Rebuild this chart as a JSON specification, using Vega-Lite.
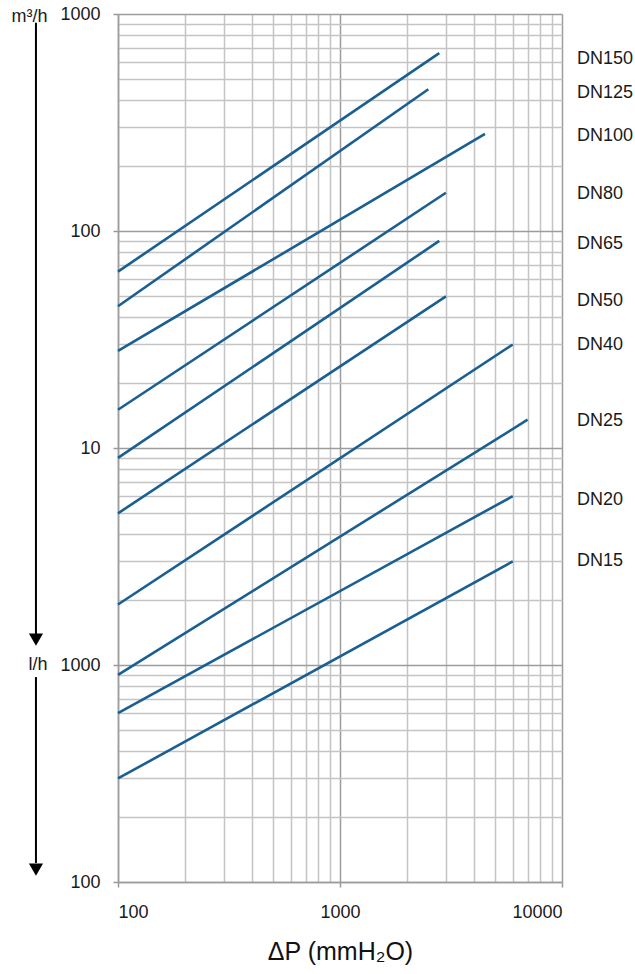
{
  "$schema": "https://vega.github.io/schema/vega-lite/v6.json",
  "width": 444,
  "height": 868,
  "autosize": {"type": "none"},
  "padding": {"left": 118, "top": 14, "right": 73, "bottom": 92},
  "background": "white",
  "config": {"view": {"stroke": null}, "font": "Liberation Sans"},
  "datasets": {
    "lines": [
      {"dn": "DN150", "dp": 100, "q": 65}, {"dn": "DN150", "dp": 2800, "q": 660},
      {"dn": "DN125", "dp": 100, "q": 45}, {"dn": "DN125", "dp": 2500, "q": 450},
      {"dn": "DN100", "dp": 100, "q": 28}, {"dn": "DN100", "dp": 4500, "q": 280},
      {"dn": "DN80", "dp": 100, "q": 15}, {"dn": "DN80", "dp": 3000, "q": 150},
      {"dn": "DN65", "dp": 100, "q": 9}, {"dn": "DN65", "dp": 2800, "q": 90},
      {"dn": "DN50", "dp": 100, "q": 5}, {"dn": "DN50", "dp": 3000, "q": 50},
      {"dn": "DN40", "dp": 100, "q": 1.9}, {"dn": "DN40", "dp": 6000, "q": 30},
      {"dn": "DN25", "dp": 100, "q": 0.9}, {"dn": "DN25", "dp": 7000, "q": 13.5},
      {"dn": "DN20", "dp": 100, "q": 0.6}, {"dn": "DN20", "dp": 6000, "q": 6},
      {"dn": "DN15", "dp": 100, "q": 0.3}, {"dn": "DN15", "dp": 6000, "q": 3}
    ],
    "labels": [
      {"dn": "DN150", "q": 620}, {"dn": "DN125", "q": 433}, {"dn": "DN100", "q": 274},
      {"dn": "DN80", "q": 148}, {"dn": "DN65", "q": 87}, {"dn": "DN50", "q": 47.8},
      {"dn": "DN40", "q": 29.8}, {"dn": "DN25", "q": 13.25}, {"dn": "DN20", "q": 5.73},
      {"dn": "DN15", "q": 3.0}
    ],
    "arrows": [
      {"q": 912, "q2": 1.36},
      {"q": 0.88, "q2": 0.1224}
    ],
    "heads": [{"q": 1.31}, {"q": 0.1139}],
    "units": [{"unit": "m³/h", "q": 964}, {"unit": "l/h", "q": 1}]
  },
  "layer": [
    {
      "data": {"name": "lines"},
      "mark": {"type": "line", "color": "#1a5f92", "strokeWidth": 2.6},
      "encoding": {
        "x": {
          "field": "dp", "type": "quantitative",
          "scale": {"type": "log", "domain": [100, 10000], "nice": false},
          "axis": {
            "orient": "bottom",
            "values": [100, 200, 300, 400, 500, 600, 700, 800, 900, 1000, 2000, 3000, 4000, 5000, 6000, 7000, 8000, 9000, 10000],
            "labelExpr": "indexof([100,1000,10000], datum.value) >= 0 ? format(datum.value, 'd') : ''",
            "labelOverlap": false,
            "labelFontSize": 18,
            "labelColor": "#1a1a1a",
            "labelPadding": 16,
            "tickSize": 5,
            "tickColor": "#999999",
            "tickWidth": 1.5,
            "tickOpacity": {"condition": {"test": "indexof([100,1000,10000], datum.value) >= 0", "value": 1}, "value": 0},
            "grid": true,
            "gridColor": {"condition": {"test": "indexof([100,1000,10000], datum.value) >= 0", "value": "#9c9c9c"}, "value": "#c4c4c4"},
            "gridWidth": 1.5,
            "domainColor": "#9c9c9c",
            "domainWidth": 1.5,
            "title": "ΔP (mmH₂O)",
            "titleFontSize": 25,
            "titleFontWeight": "normal",
            "titleColor": "#111111",
            "titlePadding": 18
          }
        },
        "y": {
          "field": "q", "type": "quantitative",
          "scale": {"type": "log", "domain": [0.1, 1000], "nice": false},
          "axis": {
            "orient": "left",
            "values": [0.1, 0.2, 0.3, 0.4, 0.5, 0.6, 0.7, 0.8, 0.9, 1, 2, 3, 4, 5, 6, 7, 8, 9, 10, 20, 30, 40, 50, 60, 70, 80, 90, 100, 200, 300, 400, 500, 600, 700, 800, 900, 1000],
            "labelExpr": "indexof([0.1,1,10,100,1000], datum.value) >= 0 ? (datum.value >= 10 ? format(datum.value, 'd') : format(datum.value * 1000, 'd')) : ''",
            "labelOverlap": false,
            "labelFontSize": 18,
            "labelColor": "#1a1a1a",
            "labelPadding": 13,
            "tickSize": 5,
            "tickColor": "#999999",
            "tickWidth": 1.5,
            "tickOpacity": {"condition": {"test": "indexof([0.1,1,10,100,1000], datum.value) >= 0", "value": 1}, "value": 0},
            "grid": true,
            "gridColor": {"condition": {"test": "indexof([0.1,1,10,100,1000], datum.value) >= 0", "value": "#9c9c9c"}, "value": "#c4c4c4"},
            "gridWidth": 1.5,
            "domainColor": "#9c9c9c",
            "domainWidth": 1.5,
            "title": null
          }
        },
        "detail": {"field": "dn"}
      }
    },
    {
      "data": {"name": "labels"},
      "mark": {"type": "text", "align": "left", "baseline": "middle", "dx": 15, "fontSize": 18, "color": "#1a1a1a"},
      "encoding": {
        "x": {"datum": 10000, "type": "quantitative"},
        "y": {"field": "q", "type": "quantitative"},
        "text": {"field": "dn"}
      }
    },
    {
      "data": {"name": "arrows"},
      "mark": {"type": "rule", "color": "#000000", "strokeWidth": 2},
      "encoding": {
        "x": {"datum": 42.7, "type": "quantitative"},
        "y": {"field": "q", "type": "quantitative"},
        "y2": {"field": "q2"}
      }
    },
    {
      "data": {"name": "heads"},
      "mark": {"type": "point", "shape": "triangle-down", "filled": true, "color": "#000000", "size": 200, "opacity": 1},
      "encoding": {
        "x": {"datum": 42.7, "type": "quantitative"},
        "y": {"field": "q", "type": "quantitative"}
      }
    },
    {
      "data": {"name": "units"},
      "mark": {"type": "text", "align": "right", "baseline": "middle", "fontSize": 18, "color": "#1a1a1a"},
      "encoding": {
        "x": {"datum": 48.1, "type": "quantitative"},
        "y": {"field": "q", "type": "quantitative"},
        "text": {"field": "unit"}
      }
    }
  ]
}
